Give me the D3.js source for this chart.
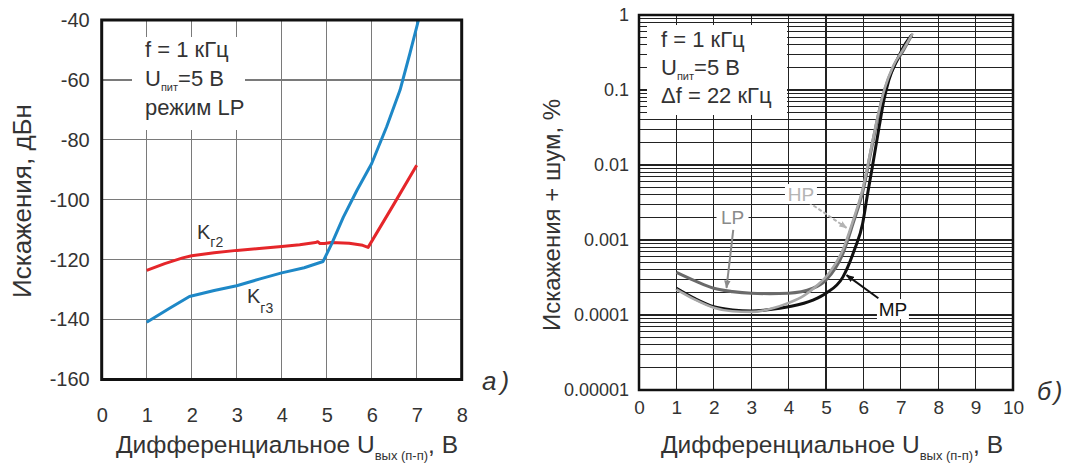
<!DOCTYPE html>
<meta charset="utf-8">
<style>
body{margin:0;background:#fff;}
text{font-family:"Liberation Sans",Arial,sans-serif;fill:#333;}
.grid line{shape-rendering:crispEdges;}
</style>
<svg width="1065" height="463"></svg>
<script src="https://d3js.org/d3.v7.min.js"></script>
<script>
// ---- data, chart a) ----
var kg2V = [1, 1.4, 1.8, 2, 2.5, 3, 3.5, 4, 4.4, 4.75, 4.8, 4.85, 4.95, 5.1, 5.5, 5.8, 5.92, 6.48, 7.0];
var kg2D = [-123.6, -121.3, -119.4, -118.7, -117.7, -116.9, -116.3, -115.6, -115.0, -114.3, -114.0, -114.6, -114.6, -114.3, -114.5, -115.2, -115.9, -101.8, -88.5];
var kg3V = [1, 1.5, 1.95, 2.5, 3, 3.5, 4, 4.5, 4.92, 5.11, 5.37, 5.67, 6.0, 6.33, 6.63, 6.85, 7.04];
var kg3D = [-140.9, -136.3, -132.3, -130.3, -128.7, -126.5, -124.4, -122.7, -120.6, -114.7, -105.8, -96.9, -87.9, -75.7, -63.4, -51.1, -40];
var xTicksA = [0, 1, 2, 3, 4, 5, 6, 7, 8];
var yTicksA = [-40, -60, -80, -100, -120, -140, -160];

// ---- data, chart б) ----
var mpV = [1, 1.5, 2, 2.5, 3, 3.5, 4, 4.65, 5, 5.45, 5.76, 5.98, 6.1, 6.24, 6.42, 6.55, 6.68, 6.9, 7.13, 7.29];
var mpD = [2.27e-4, 1.65e-4, 1.29e-4, 1.17e-4, 1.13e-4, 1.18e-4, 1.29e-4, 1.58e-4, 1.95e-4, 3.2e-4, 7.4e-4, 1.66e-3, 3.8e-3, 9.5e-3, 0.032, 0.074, 0.136, 0.25, 0.42, 0.54];
var lpV = [1, 1.5, 2, 2.5, 3, 3.5, 4, 4.65, 5, 5.45, 5.72, 5.99, 6.21, 6.39, 6.57, 6.8, 7.07, 7.29];
var lpD = [3.7e-4, 2.85e-4, 2.27e-4, 2.05e-4, 1.95e-4, 1.93e-4, 1.95e-4, 2.27e-4, 2.94e-4, 6.6e-4, 1.66e-3, 4.6e-3, 0.016, 0.044, 0.1, 0.2, 0.34, 0.54];
var hpV = [1, 1.5, 2, 2.5, 3, 3.5, 4, 4.4, 4.73, 5.08, 5.45, 5.72, 5.99, 6.21, 6.39, 6.57, 6.8, 7.07, 7.32];
var hpD = [2.2e-4, 1.6e-4, 1.25e-4, 1.12e-4, 1.1e-4, 1.2e-4, 1.45e-4, 1.8e-4, 2.4e-4, 3.6e-4, 7.4e-4, 1.8e-3, 5e-3, 0.017, 0.046, 0.105, 0.21, 0.35, 0.57];
var xTicksB = [0, 1, 2, 3, 4, 5, 6, 7, 8, 9, 10];
var yTicksB = [1, 0.1, 0.01, 0.001, 0.0001, 0.00001];
var yLabelsB = ["1", "0.1", "0.01", "0.001", "0.0001", "0.00001"];

var svg = d3.select("svg");

function zip(xs, ys) { return xs.map(function(v, i) { return [v, ys[i]]; }); }

// text with subscript parts
function subText(g, x, y, parts, size, anchor) {
    var t = g.append("text").attr("x", x).attr("y", y)
        .attr("font-size", size).attr("text-anchor", anchor || "start");
    parts.forEach(function(p) {
        var s = t.append("tspan").attr("dy", p.dy || 0).text(p.t);
        if (p.size) s.attr("font-size", p.size);
        if (p.dx) s.attr("dx", p.dx);
    });
    return t;
}

// ================= chart a) =================
var xA = d3.scaleLinear().domain([0, 8]).range([101.7, 461.7]);
var yA = d3.scaleLinear().domain([-160, -40]).range([379.5, 20]);
var gA = svg.append("g");

var gridA = gA.append("g").attr("class", "grid");
gridA.selectAll(".v").data(d3.range(1, 8)).enter().append("line")
    .attr("x1", function(d) { return xA(d); }).attr("x2", function(d) { return xA(d); })
    .attr("y1", yA(-160)).attr("y2", yA(-40))
    .attr("stroke", "#7a7a7a").attr("stroke-width", 1.3);
gridA.selectAll(".h").data(d3.range(-140, -40, 20)).enter().append("line")
    .attr("x1", xA(0)).attr("x2", xA(8))
    .attr("y1", function(d) { return yA(d); }).attr("y2", function(d) { return yA(d); })
    .attr("stroke", "#7a7a7a").attr("stroke-width", 1.3);

// white box behind note
gA.append("rect").attr("x", 132).attr("y", 37).attr("width", 113).attr("height", 93).attr("fill", "#fff");
subText(gA, 145, 57, [{t: "f = 1 кГц"}], 22);
subText(gA, 145, 86, [{t: "U"}, {t: "пит", size: 11, dy: 5}, {t: "=5 В", dy: -5}], 22);
subText(gA, 145, 115, [{t: "режим LP"}], 22);

var lineA = d3.line().x(function(d) { return xA(d[0]); }).y(function(d) { return yA(d[1]); });
gA.append("path").datum(zip(kg2V, kg2D)).attr("d", lineA)
    .attr("fill", "none").attr("stroke", "#e5262a").attr("stroke-width", 3).attr("stroke-linejoin", "round");
gA.append("path").datum(zip(kg3V, kg3D)).attr("d", lineA)
    .attr("fill", "none").attr("stroke", "#1e88c7").attr("stroke-width", 3).attr("stroke-linejoin", "round");

subText(gA, 197, 239, [{t: "K"}, {t: "г2", size: 14, dy: 8}], 20);
subText(gA, 247, 303, [{t: "K"}, {t: "г3", size: 14, dy: 10}], 20);

gA.append("rect").attr("x", xA(0)).attr("y", yA(-40)).attr("width", xA(8) - xA(0)).attr("height", yA(-160) - yA(-40))
    .attr("fill", "none").attr("stroke", "#111").attr("stroke-width", 3);

var axYA = gA.append("g").attr("transform", "translate(" + xA(0) + ",0)")
    .call(d3.axisLeft(yA).tickValues(yTicksA).tickSize(0).tickPadding(12).tickFormat(function(d) { return d; }));
axYA.select(".domain").remove();
axYA.selectAll("text").attr("font-size", 20).attr("fill", "#333").attr("font-family", "Liberation Sans, Arial, sans-serif");

var axXA = gA.append("g").attr("transform", "translate(0," + yA(-160) + ")")
    .call(d3.axisBottom(xA).tickValues(xTicksA).tickSize(0).tickPadding(28));
axXA.select(".domain").remove();
axXA.selectAll("text").attr("font-size", 20).attr("fill", "#333").attr("font-family", "Liberation Sans, Arial, sans-serif");

subText(gA, 287, 453, [{t: "Дифференциальное U"}, {t: "вых (п-п)", size: 13, dy: 7}, {t: ", В", dy: -7}], 24.5, "middle");
gA.append("text").attr("transform", "translate(31,201) rotate(-90)").attr("text-anchor", "middle")
    .attr("font-size", 26).text("Искажения, дБн");

subText(gA, 482, 390, [{t: "а"}, {t: ")", dx: 4}], 26).attr("font-family", "Liberation Serif, serif")
    .attr("font-style", "italic");

// ================= chart б) =================
var xB = d3.scaleLinear().domain([0, 10]).range([639, 1013]);
var yB = d3.scaleLog().domain([1e-5, 1]).range([390, 15]);
var gB = svg.append("g");

var minor = [];
for (var e = -5; e < 0; e++) for (var k = 1; k < 10; k++) minor.push(k * Math.pow(10, e));
var gridB = gB.append("g").attr("class", "grid");
gridB.selectAll(".h").data(minor.slice(1)).enter().append("line")
    .attr("x1", xB(0)).attr("x2", xB(10))
    .attr("y1", function(d) { return yB(d); }).attr("y2", function(d) { return yB(d); })
    .attr("stroke", "#222").attr("stroke-width", 1.2);
gridB.selectAll(".v").data(d3.range(1, 10)).enter().append("line")
    .attr("x1", function(d) { return xB(d); }).attr("x2", function(d) { return xB(d); })
    .attr("y1", yB(1e-5)).attr("y2", yB(1))
    .attr("stroke", "#222").attr("stroke-width", 1.3);

gB.append("rect").attr("x", 647).attr("y", 25).attr("width", 140).attr("height", 90).attr("fill", "#fff");
subText(gB, 661, 47, [{t: "f = 1 кГц"}], 22);
subText(gB, 661, 75, [{t: "U"}, {t: "пит", size: 11, dy: 5}, {t: "=5 В", dy: -5}], 22);
subText(gB, 661, 103, [{t: "Δf = 22 кГц"}], 22);

var lineB = d3.line().curve(d3.curveMonotoneX)
    .x(function(d) { return xB(d[0]); }).y(function(d) { return yB(d[1]); });
gB.append("path").datum(zip(lpV, lpD)).attr("d", lineB)
    .attr("fill", "none").attr("stroke", "#6a6a6a").attr("stroke-width", 3.2);
gB.append("path").datum(zip(mpV, mpD)).attr("d", lineB)
    .attr("fill", "none").attr("stroke", "#111").attr("stroke-width", 3);
gB.append("path").datum(zip(hpV, hpD)).attr("d", lineB)
    .attr("fill", "none").attr("stroke", "#a8a8a8").attr("stroke-width", 2.6);

// annotations (data units)
var notes = [
    {t: "LP", x: 2.5, y: 2.0e-3, c: "#8a8a8a", ax: [2.52, 1.36e-3], bx: [2.34, 2.3e-4], dash: null},
    {t: "HP", x: 4.33, y: 4.1e-3, c: "#b4b4b4", ax: [4.53, 3.2e-3], bx: [5.55, 1.45e-3], dash: "4,2"},
    {t: "MP", x: 6.79, y: 1.2e-4, c: "#111", ax: [6.4, 1.67e-4], bx: [5.55, 3.4e-4], dash: null}
];
var defs = svg.append("defs");
notes.forEach(function(n, i) {
    defs.append("marker").attr("id", "ah" + i).attr("viewBox", "0 0 10 10").attr("refX", 9).attr("refY", 5)
        .attr("markerWidth", 4).attr("markerHeight", 4).attr("orient", "auto")
        .append("path").attr("d", "M0,1 L10,5 L0,9 z").attr("fill", n.c);
    gB.append("line").attr("x1", xB(n.ax[0])).attr("y1", yB(n.ax[1]))
        .attr("x2", xB(n.bx[0])).attr("y2", yB(n.bx[1]))
        .attr("stroke", n.c).attr("stroke-width", 2).attr("stroke-dasharray", n.dash)
        .attr("marker-end", "url(#ah" + i + ")");
    var cx = xB(n.x), cy = yB(n.y);
    gB.append("rect").attr("x", cx - 16).attr("y", cy - 10).attr("width", 32).attr("height", 20).attr("fill", "#fff");
    gB.append("text").attr("x", cx).attr("y", cy + 7).attr("text-anchor", "middle")
        .attr("font-size", 19).style("fill", n.c).text(n.t);
});

gB.append("rect").attr("x", xB(0)).attr("y", yB(1)).attr("width", xB(10) - xB(0)).attr("height", yB(1e-5) - yB(1))
    .attr("fill", "none").attr("stroke", "#111").attr("stroke-width", 2.5);

var axYB = gB.append("g").attr("transform", "translate(" + xB(0) + ",0)")
    .call(d3.axisLeft(yB).tickValues(yTicksB).tickSize(0).tickPadding(10)
        .tickFormat(function(d, i) { return yLabelsB[i]; }));
axYB.select(".domain").remove();
axYB.selectAll("text").attr("font-size", 18).attr("fill", "#333").attr("font-family", "Liberation Sans, Arial, sans-serif");

var axXB = gB.append("g").attr("transform", "translate(0," + yB(1e-5) + ")")
    .call(d3.axisBottom(xB).tickValues(xTicksB).tickSize(0).tickPadding(11));
axXB.select(".domain").remove();
axXB.selectAll("text").attr("font-size", 19).attr("fill", "#333").attr("font-family", "Liberation Sans, Arial, sans-serif");

subText(gB, 832, 453, [{t: "Дифференциальное U"}, {t: "вых (п-п)", size: 13, dy: 7}, {t: ", В", dy: -7}], 24.5, "middle");
gB.append("text").attr("transform", "translate(560,215) rotate(-90)").attr("text-anchor", "middle")
    .attr("font-size", 24).text("Искажения + шум, %");

subText(gB, 1037, 400, [{t: "б"}, {t: ")", dx: 3}], 25).attr("font-family", "Liberation Serif, serif")
    .attr("font-style", "italic");
</script>
